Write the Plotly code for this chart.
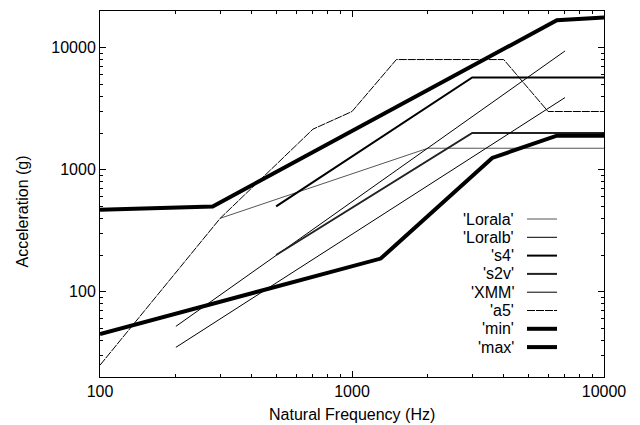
import plotly.graph_objects as go

# Shock spectra: natural frequency (Hz) vs acceleration (g)
lorala_f = [300, 2000, 10000]
lorala_a = [400, 1500, 1500]

loralb_f = [200, 7000]
loralb_a = [52, 9400]

s4_f = [500, 3000, 10000]
s4_a = [500, 5700, 5700]

s2v_f = [500, 3000, 10000]
s2v_a = [200, 2000, 2000]

xmm_f = [200, 7000]
xmm_a = [35, 3900]

a5_f = [100, 300, 700, 1000, 1500, 4000, 6000, 10000]
a5_a = [25, 400, 2150, 3000, 8000, 8000, 3000, 3000]

min_f = [100, 1300, 3600, 6500, 10000]
min_a = [45, 187, 1250, 1900, 1900]

max_f = [100, 280, 6500, 10000]
max_a = [470, 500, 16800, 17700]

x_ticks = [100, 1000, 10000]
y_ticks = [100, 1000, 10000]

series = [
    ("'Lorala'", lorala_f, lorala_a, dict(color="#555555", width=1)),
    ("'Loralb'", loralb_f, loralb_a, dict(color="black", width=1)),
    ("'s4'", s4_f, s4_a, dict(color="black", width=2)),
    ("'s2v'", s2v_f, s2v_a, dict(color="#222222", width=2)),
    ("'XMM'", xmm_f, xmm_a, dict(color="black", width=1)),
    ("'a5'", a5_f, a5_a, dict(color="black", width=1, dash="8px,1px")),
    ("'min'", min_f, min_a, dict(color="black", width=4)),
    ("'max'", max_f, max_a, dict(color="black", width=4)),
]

FONT = "Liberation Sans, Arial, Helvetica, sans-serif"

fig = go.Figure()
for name, f, a, line in series:
    fig.add_trace(go.Scatter(x=f, y=a, mode="lines", name=name, line=line,
                             showlegend=False))

# plot-area geometry in pixels
W, H = 640, 425
L, R, T, B = 100, 36, 11, 48
pw, ph = W - L - R, H - T - B


def px_x(p):
    return (p - L) / pw


def px_y(p):
    return (H - B - p) / ph


# legend drawn at the lower right: label on the left, sample on the right
annotations = []
shapes = []
row0, step = 219, 18.3
for i, (name, f, a, line) in enumerate(series):
    yc = row0 + i * step
    annotations.append(dict(
        x=px_x(516), y=px_y(yc), xref="paper", yref="paper",
        text=name, showarrow=False, xanchor="right", yanchor="middle",
        font=dict(family=FONT, size=16, color="black")))
    shapes.append(dict(
        type="line", xref="paper", yref="paper",
        x0=px_x(527), x1=px_x(557), y0=px_y(yc), y1=px_y(yc),
        line=line))

annotations.append(dict(
    x=px_x(352), y=px_y(415), xref="paper", yref="paper",
    text="Natural Frequency (Hz)", showarrow=False,
    xanchor="center", yanchor="middle",
    font=dict(family=FONT, size=16, color="black")))
annotations.append(dict(
    x=px_x(21.5), y=px_y(212), xref="paper", yref="paper",
    text="Acceleration (g)", showarrow=False, textangle=-90,
    xanchor="center", yanchor="middle",
    font=dict(family=FONT, size=16, color="black")))

axis_common = dict(
    type="log", showgrid=False, zeroline=False,
    showline=True, linecolor="black", linewidth=1, mirror="allticks",
    ticks="inside", ticklen=6, tickcolor="black", tickwidth=1,
    tickfont=dict(family=FONT, size=16, color="black"),
    minor=dict(ticks="inside", ticklen=3, tickcolor="black",
               dtick="D1", showgrid=False),
)

fig.update_xaxes(range=[2, 4], tickvals=x_ticks,
                 ticktext=[str(v) for v in x_ticks], **axis_common)
fig.update_yaxes(range=[1.301, 4.301], tickvals=y_ticks,
                 ticktext=[str(v) for v in y_ticks], **axis_common)

fig.update_layout(
    width=W, height=H,
    margin=dict(l=L, r=R, t=T, b=B),
    paper_bgcolor="white", plot_bgcolor="white",
    font=dict(family=FONT, size=16, color="black"),
    annotations=annotations, shapes=shapes,
)

fig.write_html("out.html")
